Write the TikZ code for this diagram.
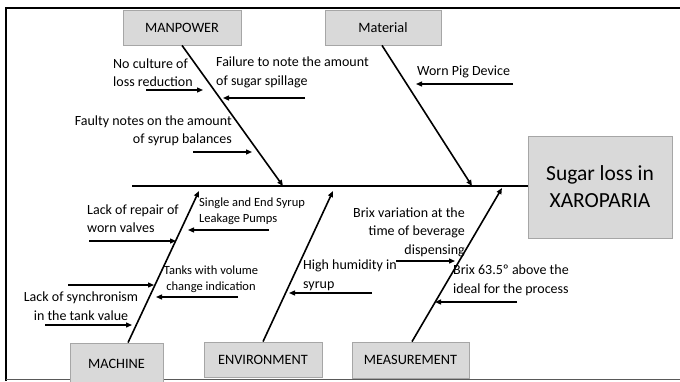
\documentclass[tikz,border=0pt]{standalone}
\usepackage{fontspec}
\setmainfont{Carlito}
\usetikzlibrary{arrows.meta}
\definecolor{boxfill}{HTML}{D9D9D9}
\definecolor{boxline}{HTML}{A6A6A6}
\definecolor{frameline}{HTML}{595959}
\begin{document}
\begin{tikzpicture}[x=1pt,y=-1pt,
  catbox/.style={draw=boxline, fill=boxfill, line width=0.8pt, inner sep=0pt,
    font=\fontsize{14.3}{16}\selectfont},
  effectbox/.style={draw=boxline, fill=boxfill, line width=0.8pt, inner sep=0pt,
    align=center, font=\fontsize{21.5}{27}\selectfont},
  lbl/.style={inner sep=0pt, font=\fontsize{14}{18.5}\selectfont},
  smalllbl/.style={lbl, font=\fontsize{12.5}{16}\selectfont},
  bone/.style={line width=1.6pt, -{Triangle[length=6pt,width=5pt]}},
  cause/.style={line width=1.3pt, -{Triangle[length=6pt,width=5pt]}},
  spine/.style={line width=1.1pt}
]
\useasboundingbox (0,0) rectangle (680,381);

% frame
\draw[line width=2.6pt] (6,381) -- (6,8) -- (680,8);
\draw[frameline, line width=0.6pt] (6,379) -- (680,379);

% category boxes
\node[catbox, minimum width=118pt, minimum height=35pt] (man) at (182,27.5) {MANPOWER};
\node[catbox, minimum width=116pt, minimum height=35pt] (mat) at (383,27.5) {Material};
\node[catbox, minimum width=93pt, minimum height=42pt] (mac) at (116.5,364) {\raisebox{-2pt}{MACHINE}};
\node[catbox, minimum width=118pt, minimum height=35pt] (env) at (263,359.5) {ENVIRONMENT};
\node[catbox, minimum width=117pt, minimum height=36pt] (mea) at (410.5,360) {MEASUREMENT};

% effect box
\node[effectbox, minimum width=144pt, minimum height=102pt] (eff) at (600,187)
  {Sugar loss in\\XAROPARIA};

% spine
\coordinate (sp0) at (132,186);
\draw[spine] (sp0) -- (eff.west |- sp0);

% bones
\coordinate (manT) at (283,186);
\coordinate (matT) at (472,186);
\coordinate (macT) at (199,191);
\coordinate (envT) at (333,191);
\coordinate (meaT) at (502,188);
\draw[bone] (man.south -| 182,0) -- (manT);
\draw[bone] (mat.south -| 382,0) -- (matT);
\draw[bone] (mac.north -| 128,0) -- (macT);
\draw[bone] (env.north -| 263,0) -- (envT);
\draw[bone] (mea.north -| 412,0) -- (meaT);

% manpower causes
\node[lbl, anchor=west, align=left] (c1) at (113,72.5) {No culture of\\loss reduction};
\coordinate (a1s) at (146,90); \coordinate (a1e) at (203,90);
\draw[cause] (a1s) -- (a1e);
\node[lbl, anchor=west, align=left] (c2) at (216,72.5) {Failure to note the amount\\of sugar spillage};
\coordinate (a2s) at (305,98); \coordinate (a2e) at (223,98);
\draw[cause] (a2s) -- (a2e);
\node[lbl, anchor=east, align=right] (c3) at (232,131) {Faulty notes on the amount\\of syrup balances};
\coordinate (a3s) at (193,152); \coordinate (a3e) at (252,152);
\draw[cause] (a3s) -- (a3e);

% material causes
\node[lbl, anchor=west] (c4) at (417,72) {Worn Pig Device};
\coordinate (a4s) at (513,84); \coordinate (a4e) at (416,84);
\draw[cause] (a4s) -- (a4e);

% machine causes
\node[lbl, anchor=west, align=left] (c5) at (87,218.5) {Lack of repair of\\worn valves};
\coordinate (a5s) at (89,241); \coordinate (a5e) at (176,241);
\draw[cause] (a5s) -- (a5e);
\node[smalllbl, anchor=west, align=left] (c6) at (199,211) {Single and End Syrup\\Leakage Pumps};
\coordinate (a6s) at (269,230); \coordinate (a6e) at (188,230);
\draw[cause] (a6s) -- (a6e);
\node[smalllbl, align=center] (c7) at (211,279.5) {Tanks with volume\\change indication};
\coordinate (a7s) at (68,285); \coordinate (a7e) at (154,285);
\draw[cause] (a7s) -- (a7e);
\coordinate (a8s) at (238,297); \coordinate (a8e) at (156,297);
\draw[cause] (a8s) -- (a8e);
\node[lbl, align=center] (c8) at (81,306) {Lack of synchronism\\in the tank value};
\coordinate (a9s) at (45,325); \coordinate (a9e) at (132,325);
\draw[cause] (a9s) -- (a9e);

% environment causes
\node[lbl, anchor=west, align=left] (c9) at (303,275.5) {High humidity in\\syrup};
\coordinate (a10s) at (372,293); \coordinate (a10e) at (289,293);
\draw[cause] (a10s) -- (a10e);

% measurement causes
\node[lbl, anchor=east, align=right] (c10) at (465,232) {Brix variation at the\\time of beverage\\dispensing};
\coordinate (a11s) at (396,261); \coordinate (a11e) at (455,261);
\draw[cause] (a11s) -- (a11e);
\node[lbl, anchor=west, align=left] (c11) at (453,280.5) {Brix 63.5º above the\\ideal for the process};
\coordinate (a12s) at (517,302); \coordinate (a12e) at (435,302);
\draw[cause] (a12s) -- (a12e);
\end{tikzpicture}
\end{document}
